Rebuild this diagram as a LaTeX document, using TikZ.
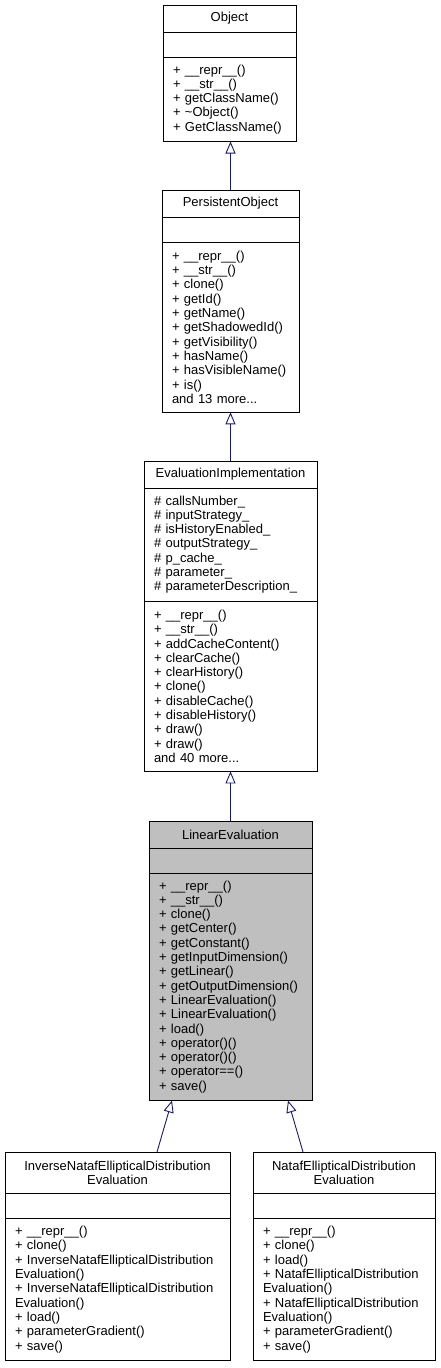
\documentclass[tikz,border=0pt]{standalone}
\usepackage{fontspec}
\setmainfont{Liberation Sans}
\usetikzlibrary{arrows.meta}
\definecolor{edgeblue}{HTML}{191970}
\definecolor{hlgray}{HTML}{BFBFBF}
\begin{document}
\begin{tikzpicture}[x=1pt,y=-1pt,
  box/.style={draw=black, line width=0.9pt, rectangle, anchor=north west,
    inner xsep=10pt, inner ysep=0pt, outer sep=0pt,
    font=\fontsize{13}{14.3}\selectfont},
  ttl/.style={box, align=center},
  mem/.style={box, align=left},
  inh/.style={draw=edgeblue, line width=0.9pt,
    -{Triangle[width=10pt,length=12pt,fill=white]}}
]
\useasboundingbox (0,0) rectangle (440,1368);

% Object
\node[ttl, text width=113pt, minimum height=27pt] (obj-t) at (163,5) {Object};
\node[mem, text width=113pt, minimum height=25pt] (obj-a) at (obj-t.south west) {};
\node[mem, text width=113pt, minimum height=84.5pt] (obj-m) at (obj-a.south west)
  {+ \_\_repr\_\_()\\+ \_\_str\_\_()\\+ getClassName()\\+ \textasciitilde{}Object()\\+ GetClassName()};

% PersistentObject
\node[ttl, text width=117pt, minimum height=27pt] (pobj-t) at (162,190) {PersistentObject};
\node[mem, text width=117pt, minimum height=25pt] (pobj-a) at (pobj-t.south west) {};
\node[mem, text width=117pt, minimum height=170.3pt] (pobj-m) at (pobj-a.south west)
  {+ \_\_repr\_\_()\\+ \_\_str\_\_()\\+ clone()\\+ getId()\\+ getName()\\+ getShadowedId()\\+ getVisibility()\\+ hasName()\\+ hasVisibleName()\\+ is()\\and 13 more...};

% EvaluationImplementation
\node[ttl, text width=153pt, minimum height=27pt] (eval-t) at (144,461) {EvaluationImplementation};
\node[mem, text width=153pt, minimum height=113.1pt] (eval-a) at (eval-t.south west)
  {\# callsNumber\_\\\# inputStrategy\_\\\# isHistoryEnabled\_\\\# outputStrategy\_\\\# p\_cache\_\\\# parameter\_\\\# parameterDescription\_};
\node[mem, text width=153pt, minimum height=170.3pt] (eval-m) at (eval-a.south west)
  {+ \_\_repr\_\_()\\+ \_\_str\_\_()\\+ addCacheContent()\\+ clearCache()\\+ clearHistory()\\+ clone()\\+ disableCache()\\+ disableHistory()\\+ draw()\\+ draw()\\and 40 more...};

% LinearEvaluation
\node[ttl, fill=hlgray, text width=143pt, minimum height=27pt] (lin-t) at (149,821) {LinearEvaluation};
\node[mem, fill=hlgray, text width=143pt, minimum height=25pt] (lin-a) at (lin-t.south west) {};
\node[mem, fill=hlgray, text width=143pt, minimum height=227.5pt] (lin-m) at (lin-a.south west)
  {+ \_\_repr\_\_()\\+ \_\_str\_\_()\\+ clone()\\+ getCenter()\\+ getConstant()\\+ getInputDimension()\\+ getLinear()\\+ getOutputDimension()\\+ LinearEvaluation()\\+ LinearEvaluation()\\+ load()\\+ operator()()\\+ operator()()\\+ operator==()\\+ save()};

% InverseNatafEllipticalDistributionEvaluation
\node[ttl, text width=205pt, minimum height=41.6pt] (inv-t) at (5,1152) {InverseNatafEllipticalDistribution\\Evaluation};
\node[mem, text width=205pt, minimum height=25pt] (inv-a) at (inv-t.south west) {};
\node[mem, text width=205pt, minimum height=141.7pt] (inv-m) at (inv-a.south west)
  {+ \_\_repr\_\_()\\+ clone()\\+ InverseNatafEllipticalDistribution\\Evaluation()\\+ InverseNatafEllipticalDistribution\\Evaluation()\\+ load()\\+ parameterGradient()\\+ save()};

% NatafEllipticalDistributionEvaluation
\node[ttl, text width=162pt, minimum height=41.6pt] (nat-t) at (253,1152) {NatafEllipticalDistribution\\Evaluation};
\node[mem, text width=162pt, minimum height=25pt] (nat-a) at (nat-t.south west) {};
\node[mem, text width=162pt, minimum height=141.7pt] (nat-m) at (nat-a.south west)
  {+ \_\_repr\_\_()\\+ clone()\\+ load()\\+ NatafEllipticalDistribution\\Evaluation()\\+ NatafEllipticalDistribution\\Evaluation()\\+ parameterGradient()\\+ save()};

% inheritance edges
\draw[inh] (pobj-t.north) -- (pobj-t.north |- obj-m.south);
\draw[inh] (eval-t.north) -- (eval-t.north |- pobj-m.south);
\draw[inh] (lin-t.north) -- (lin-t.north |- eval-m.south);
\draw[inh] ([xshift=39.5pt]inv-t.north) -- ([xshift=-58.5pt]lin-m.south);
\draw[inh] ([xshift=-41pt]nat-t.north) -- ([xshift=57.5pt]lin-m.south);
\end{tikzpicture}
\end{document}
